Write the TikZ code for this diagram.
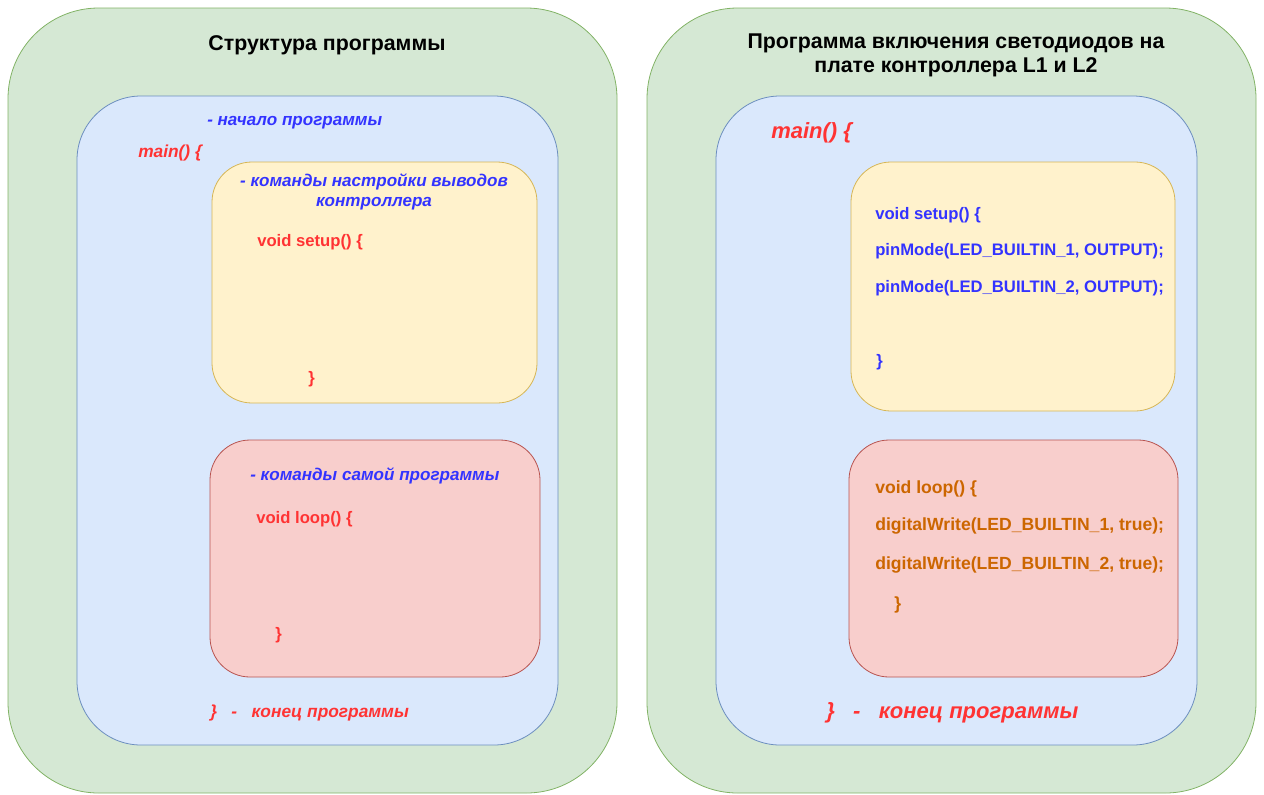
\documentclass[tikz,border=0pt]{standalone}
\usepackage{fontspec}
\setmainfont{Liberation Sans}
\usetikzlibrary{positioning}

\definecolor{greenfill}{HTML}{D5E8D4}
\definecolor{greenline}{HTML}{82B366}
\definecolor{bluefill}{HTML}{DAE8FC}
\definecolor{blueline}{HTML}{6C8EBF}
\definecolor{yellowfill}{HTML}{FFF2CC}
\definecolor{yellowline}{HTML}{D6B656}
\definecolor{redfill}{HTML}{F8CECC}
\definecolor{redline}{HTML}{B85450}
\definecolor{noteblue}{HTML}{3333FF}
\definecolor{codered}{HTML}{FF3333}
\definecolor{codeorange}{HTML}{CC6600}

\tikzset{
  box/.style={line width=0.6pt},
  greenbox/.style={box, draw=greenline, fill=greenfill, rounded corners=68pt},
  bluebox/.style={box, draw=blueline, fill=bluefill, rounded corners=48pt},
  yellowbox/.style={box, draw=yellowline, fill=yellowfill, rounded corners=30pt},
  redbox/.style={box, draw=redline, fill=redfill, rounded corners=30pt},
  title/.style={inner sep=0pt, align=center, font=\fontsize{16}{18}\selectfont\bfseries},
  code/.style={anchor=west, inner sep=0pt, font=\fontsize{12.5}{15}\selectfont\bfseries},
  widecode/.style={code, text=codeorange, font=\fontsize{13.2}{15}\selectfont\bfseries},
  note/.style={code, text=noteblue, font=\fontsize{12.8}{15}\selectfont\bfseries\itshape},
  redmark/.style={code, text=codered, font=\fontsize{13}{15}\selectfont\bfseries\itshape},
  bigmark/.style={redmark, font=\fontsize{16.5}{19}\selectfont\bfseries\itshape}
}

\begin{document}
\begin{tikzpicture}[x=0.75pt, y=-0.75pt]
  \useasboundingbox (0,0) rectangle (1264,794);

  % left panel
  \draw[greenbox] (8,8) rectangle (617,793);
  \draw[bluebox] (77,96) rectangle (558,745);
  \draw[yellowbox] (212,162) rectangle (537,403);
  \draw[redbox] (210,440) rectangle (540,677);

  \begin{scope}[yshift=-1.5pt]
  \node[title] (titleA) at (327,43) {Структура программы};
  \node[note] (startA) at (207,121) {- начало программы};
  \node[redmark] (mainA) at (138,151) {main() \{};
  \node[note, anchor=center, align=center] (setupnote) at (374,190) {- команды настройки выводов\\контроллера};
  \node[code, text=codered] (setupA) at (257,240) {void setup() \{};
  \node[code, text=codered] (setupendA) at (308,377) {\}};
  \node[note] (loopnote) at (250,474) {- команды самой программы};
  \node[code, text=codered] (loopA) at (256,517) {void loop() \{};
  \node[code, text=codered] (loopendA) at (275,633) {\}};
  \node[redmark] (endA) at (210,711) {\}\ \ \ -\ \ \ конец программы};
  \end{scope}

  % right panel
  \draw[greenbox] (647,8) rectangle (1256,793);
  \draw[bluebox] (716,96) rectangle (1197,745);
  \draw[yellowbox] (851,162) rectangle (1175,411);
  \draw[redbox] (849,440) rectangle (1178,677);

  \begin{scope}[yshift=-1.5pt]
  \node[title] (titleB) at (956,53) {Программа включения светодиодов на\\плате контроллера L1 и L2};
  \node[bigmark] (mainB) at (771,131) {main() \{};
  \node[code, text=noteblue] (setupB) at (875,213) {void setup() \{};
  \node[code, text=noteblue] (pinone) at (875,249) {pinMode(LED\_BUILTIN\_1, OUTPUT);};
  \node[code, text=noteblue] (pintwo) at (875,286) {pinMode(LED\_BUILTIN\_2, OUTPUT);};
  \node[code, text=noteblue] (setupendB) at (876,360) {\}};
  \node[widecode] (loopB) at (875,487) {void loop() \{};
  \node[widecode] (writeone) at (875,524) {digitalWrite(LED\_BUILTIN\_1, true);};
  \node[widecode] (writetwo) at (875,563) {digitalWrite(LED\_BUILTIN\_2, true);};
  \node[widecode] (loopendB) at (894,603) {\}};
  \node[bigmark] (endB) at (826,711) {\}\ \ \ -\ \ \ конец программы};
  \end{scope}
\end{tikzpicture}
\end{document}
